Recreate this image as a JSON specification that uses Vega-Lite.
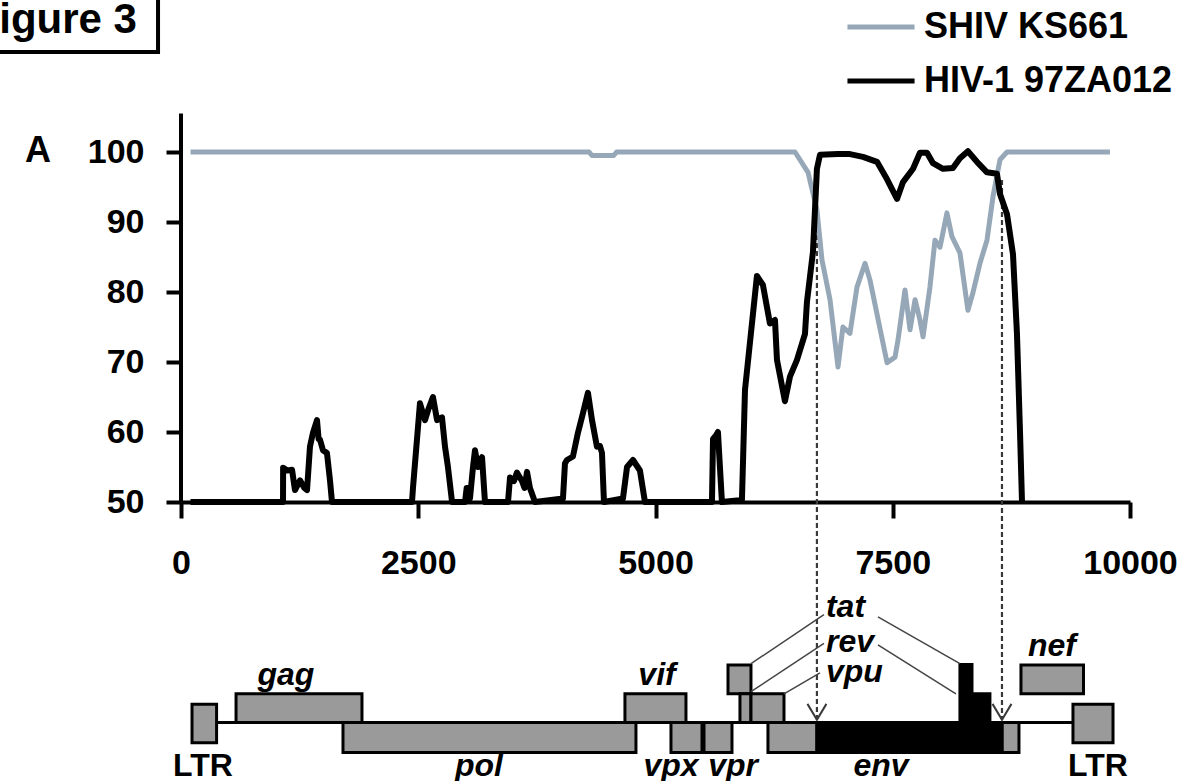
{
  "$schema": "https://vega.github.io/schema/vega-lite/v6.json",
  "width": 949,
  "height": 665,
  "autosize": {"type": "none"},
  "padding": {"left": 181, "top": 117, "right": 66, "bottom": 0},
  "background": "white",
  "config": {"view": {"stroke": null}, "font": "Liberation Sans"},
  "datasets": {
    "lines": [
      {"series": "SHIV KS661", "x": 100, "y": 100},
      {"series": "SHIV KS661", "x": 4300, "y": 100},
      {"series": "SHIV KS661", "x": 4330, "y": 99.5},
      {"series": "SHIV KS661", "x": 4560, "y": 99.5},
      {"series": "SHIV KS661", "x": 4590, "y": 100},
      {"series": "SHIV KS661", "x": 6470, "y": 100},
      {"series": "SHIV KS661", "x": 6607, "y": 97.1},
      {"series": "SHIV KS661", "x": 6701, "y": 91.7},
      {"series": "SHIV KS661", "x": 6754, "y": 84.6},
      {"series": "SHIV KS661", "x": 6839, "y": 78.9},
      {"series": "SHIV KS661", "x": 6923, "y": 69.3},
      {"series": "SHIV KS661", "x": 6975, "y": 75.0},
      {"series": "SHIV KS661", "x": 7049, "y": 74.1},
      {"series": "SHIV KS661", "x": 7123, "y": 80.7},
      {"series": "SHIV KS661", "x": 7208, "y": 84.1},
      {"series": "SHIV KS661", "x": 7260, "y": 81.7},
      {"series": "SHIV KS661", "x": 7397, "y": 72.7},
      {"series": "SHIV KS661", "x": 7440, "y": 69.9},
      {"series": "SHIV KS661", "x": 7524, "y": 70.7},
      {"series": "SHIV KS661", "x": 7555, "y": 73.1},
      {"series": "SHIV KS661", "x": 7629, "y": 80.3},
      {"series": "SHIV KS661", "x": 7682, "y": 74.6},
      {"series": "SHIV KS661", "x": 7735, "y": 78.9},
      {"series": "SHIV KS661", "x": 7787, "y": 76.0},
      {"series": "SHIV KS661", "x": 7819, "y": 73.6},
      {"series": "SHIV KS661", "x": 7892, "y": 80.7},
      {"series": "SHIV KS661", "x": 7945, "y": 87.4},
      {"series": "SHIV KS661", "x": 7998, "y": 86.4},
      {"series": "SHIV KS661", "x": 8071, "y": 91.3},
      {"series": "SHIV KS661", "x": 8124, "y": 87.9},
      {"series": "SHIV KS661", "x": 8208, "y": 85.6},
      {"series": "SHIV KS661", "x": 8292, "y": 77.4},
      {"series": "SHIV KS661", "x": 8345, "y": 79.9},
      {"series": "SHIV KS661", "x": 8419, "y": 84.1},
      {"series": "SHIV KS661", "x": 8493, "y": 87.4},
      {"series": "SHIV KS661", "x": 8556, "y": 93.6},
      {"series": "SHIV KS661", "x": 8630, "y": 98.9},
      {"series": "SHIV KS661", "x": 8704, "y": 100},
      {"series": "SHIV KS661", "x": 9789, "y": 100},
      {"series": "HIV-1 97ZA012", "x": 100, "y": 50},
      {"series": "HIV-1 97ZA012", "x": 1075, "y": 50},
      {"series": "HIV-1 97ZA012", "x": 1076, "y": 54.9},
      {"series": "HIV-1 97ZA012", "x": 1120, "y": 54.5},
      {"series": "HIV-1 97ZA012", "x": 1170, "y": 54.6},
      {"series": "HIV-1 97ZA012", "x": 1201, "y": 51.7},
      {"series": "HIV-1 97ZA012", "x": 1254, "y": 53.1},
      {"series": "HIV-1 97ZA012", "x": 1300, "y": 52.0},
      {"series": "HIV-1 97ZA012", "x": 1328, "y": 51.7},
      {"series": "HIV-1 97ZA012", "x": 1359, "y": 57.9},
      {"series": "HIV-1 97ZA012", "x": 1391, "y": 59.9},
      {"series": "HIV-1 97ZA012", "x": 1433, "y": 61.7},
      {"series": "HIV-1 97ZA012", "x": 1450, "y": 59.0},
      {"series": "HIV-1 97ZA012", "x": 1465, "y": 58.9},
      {"series": "HIV-1 97ZA012", "x": 1496, "y": 57.4},
      {"series": "HIV-1 97ZA012", "x": 1538, "y": 57.0},
      {"series": "HIV-1 97ZA012", "x": 1570, "y": 53.1},
      {"series": "HIV-1 97ZA012", "x": 1591, "y": 50},
      {"series": "HIV-1 97ZA012", "x": 2434, "y": 50},
      {"series": "HIV-1 97ZA012", "x": 2445, "y": 52.1},
      {"series": "HIV-1 97ZA012", "x": 2518, "y": 64.1},
      {"series": "HIV-1 97ZA012", "x": 2571, "y": 61.7},
      {"series": "HIV-1 97ZA012", "x": 2603, "y": 63.1},
      {"series": "HIV-1 97ZA012", "x": 2655, "y": 65.0},
      {"series": "HIV-1 97ZA012", "x": 2698, "y": 61.7},
      {"series": "HIV-1 97ZA012", "x": 2750, "y": 62.1},
      {"series": "HIV-1 97ZA012", "x": 2782, "y": 57.9},
      {"series": "HIV-1 97ZA012", "x": 2813, "y": 55.0},
      {"series": "HIV-1 97ZA012", "x": 2856, "y": 50},
      {"series": "HIV-1 97ZA012", "x": 2993, "y": 50},
      {"series": "HIV-1 97ZA012", "x": 3010, "y": 52},
      {"series": "HIV-1 97ZA012", "x": 3024, "y": 52},
      {"series": "HIV-1 97ZA012", "x": 3045, "y": 50.5},
      {"series": "HIV-1 97ZA012", "x": 3077, "y": 55},
      {"series": "HIV-1 97ZA012", "x": 3098, "y": 57.4},
      {"series": "HIV-1 97ZA012", "x": 3129, "y": 55},
      {"series": "HIV-1 97ZA012", "x": 3172, "y": 56.4},
      {"series": "HIV-1 97ZA012", "x": 3203, "y": 50},
      {"series": "HIV-1 97ZA012", "x": 3446, "y": 50},
      {"series": "HIV-1 97ZA012", "x": 3467, "y": 53.5},
      {"series": "HIV-1 97ZA012", "x": 3509, "y": 53},
      {"series": "HIV-1 97ZA012", "x": 3540, "y": 54.2},
      {"series": "HIV-1 97ZA012", "x": 3593, "y": 53},
      {"series": "HIV-1 97ZA012", "x": 3620, "y": 52},
      {"series": "HIV-1 97ZA012", "x": 3646, "y": 54.3},
      {"series": "HIV-1 97ZA012", "x": 3677, "y": 52},
      {"series": "HIV-1 97ZA012", "x": 3730, "y": 50},
      {"series": "HIV-1 97ZA012", "x": 4025, "y": 50.5},
      {"series": "HIV-1 97ZA012", "x": 4046, "y": 55.5},
      {"series": "HIV-1 97ZA012", "x": 4067, "y": 56},
      {"series": "HIV-1 97ZA012", "x": 4130, "y": 56.5},
      {"series": "HIV-1 97ZA012", "x": 4183, "y": 59.9},
      {"series": "HIV-1 97ZA012", "x": 4236, "y": 62.7},
      {"series": "HIV-1 97ZA012", "x": 4288, "y": 65.6},
      {"series": "HIV-1 97ZA012", "x": 4331, "y": 61.7},
      {"series": "HIV-1 97ZA012", "x": 4383, "y": 57.9},
      {"series": "HIV-1 97ZA012", "x": 4415, "y": 58},
      {"series": "HIV-1 97ZA012", "x": 4436, "y": 57},
      {"series": "HIV-1 97ZA012", "x": 4457, "y": 50},
      {"series": "HIV-1 97ZA012", "x": 4657, "y": 50.5},
      {"series": "HIV-1 97ZA012", "x": 4700, "y": 55},
      {"series": "HIV-1 97ZA012", "x": 4763, "y": 56},
      {"series": "HIV-1 97ZA012", "x": 4836, "y": 54.5},
      {"series": "HIV-1 97ZA012", "x": 4889, "y": 50},
      {"series": "HIV-1 97ZA012", "x": 5595, "y": 50},
      {"series": "HIV-1 97ZA012", "x": 5606, "y": 59},
      {"series": "HIV-1 97ZA012", "x": 5637, "y": 59.5},
      {"series": "HIV-1 97ZA012", "x": 5658, "y": 60},
      {"series": "HIV-1 97ZA012", "x": 5679, "y": 55},
      {"series": "HIV-1 97ZA012", "x": 5700, "y": 50},
      {"series": "HIV-1 97ZA012", "x": 5911, "y": 50.3},
      {"series": "HIV-1 97ZA012", "x": 5943, "y": 66},
      {"series": "HIV-1 97ZA012", "x": 6069, "y": 82.3},
      {"series": "HIV-1 97ZA012", "x": 6132, "y": 81},
      {"series": "HIV-1 97ZA012", "x": 6206, "y": 75.5},
      {"series": "HIV-1 97ZA012", "x": 6259, "y": 76},
      {"series": "HIV-1 97ZA012", "x": 6280, "y": 70.3},
      {"series": "HIV-1 97ZA012", "x": 6364, "y": 64.4},
      {"series": "HIV-1 97ZA012", "x": 6417, "y": 67.9},
      {"series": "HIV-1 97ZA012", "x": 6491, "y": 70.3},
      {"series": "HIV-1 97ZA012", "x": 6575, "y": 74},
      {"series": "HIV-1 97ZA012", "x": 6596, "y": 78.6},
      {"series": "HIV-1 97ZA012", "x": 6659, "y": 85.7},
      {"series": "HIV-1 97ZA012", "x": 6701, "y": 97.6},
      {"series": "HIV-1 97ZA012", "x": 6733, "y": 99.6},
      {"series": "HIV-1 97ZA012", "x": 6923, "y": 99.7},
      {"series": "HIV-1 97ZA012", "x": 7049, "y": 99.7},
      {"series": "HIV-1 97ZA012", "x": 7186, "y": 99.3},
      {"series": "HIV-1 97ZA012", "x": 7334, "y": 98.6},
      {"series": "HIV-1 97ZA012", "x": 7440, "y": 96.1},
      {"series": "HIV-1 97ZA012", "x": 7545, "y": 93.3},
      {"series": "HIV-1 97ZA012", "x": 7608, "y": 95.7},
      {"series": "HIV-1 97ZA012", "x": 7714, "y": 97.6},
      {"series": "HIV-1 97ZA012", "x": 7787, "y": 99.9},
      {"series": "HIV-1 97ZA012", "x": 7861, "y": 99.9},
      {"series": "HIV-1 97ZA012", "x": 7924, "y": 98.4},
      {"series": "HIV-1 97ZA012", "x": 8029, "y": 97.6},
      {"series": "HIV-1 97ZA012", "x": 8134, "y": 97.7},
      {"series": "HIV-1 97ZA012", "x": 8208, "y": 99.1},
      {"series": "HIV-1 97ZA012", "x": 8292, "y": 100.1},
      {"series": "HIV-1 97ZA012", "x": 8387, "y": 98.6},
      {"series": "HIV-1 97ZA012", "x": 8493, "y": 97.1},
      {"series": "HIV-1 97ZA012", "x": 8598, "y": 96.9},
      {"series": "HIV-1 97ZA012", "x": 8630, "y": 94},
      {"series": "HIV-1 97ZA012", "x": 8704, "y": 91.1},
      {"series": "HIV-1 97ZA012", "x": 8767, "y": 85.4},
      {"series": "HIV-1 97ZA012", "x": 8809, "y": 74},
      {"series": "HIV-1 97ZA012", "x": 8841, "y": 60},
      {"series": "HIV-1 97ZA012", "x": 8862, "y": 50}
    ],
    "axisline": [{"x": 0, "y": 50, "y2": 105.5}],
    "backbone": [{"x": 375, "x2": 9399, "y": 18.5}],
    "genes": [
      {"gene": "LTR 5'", "part": "gray", "x": 116, "x2": 375, "y": 15.6, "y2": 21.1},
      {"gene": "gag", "part": "gray", "x": 580, "x2": 1907, "y": 18.5, "y2": 22.6},
      {"gene": "pol", "part": "gray", "x": 1707, "x2": 4794, "y": 14.2, "y2": 18.5},
      {"gene": "vif", "part": "gray", "x": 4678, "x2": 5321, "y": 18.5, "y2": 22.6},
      {"gene": "vpx", "part": "gray", "x": 5163, "x2": 5490, "y": 14.2, "y2": 18.5},
      {"gene": "vpr", "part": "gray", "x": 5511, "x2": 5806, "y": 14.2, "y2": 18.5},
      {"gene": "tat exon 1", "part": "gray", "x": 5764, "x2": 6006, "y": 22.6, "y2": 26.7},
      {"gene": "rev exon 1", "part": "gray", "x": 5890, "x2": 6006, "y": 18.5, "y2": 22.6},
      {"gene": "vpu", "part": "gray", "x": 6006, "x2": 6354, "y": 18.5, "y2": 22.6},
      {"gene": "env SHIV 5'", "part": "gray", "x": 6185, "x2": 6701, "y": 14.2, "y2": 18.5},
      {"gene": "env SHIV 3'", "part": "gray", "x": 8651, "x2": 8830, "y": 14.2, "y2": 18.5},
      {"gene": "nef", "part": "gray", "x": 8851, "x2": 9510, "y": 22.6, "y2": 26.7},
      {"gene": "LTR 3'", "part": "gray", "x": 9399, "x2": 9821, "y": 15.6, "y2": 21.1},
      {"gene": "env HIV-1", "part": "black", "x": 6701, "x2": 8651, "y": 14.2, "y2": 18.5},
      {"gene": "tat exon 2", "part": "black", "x": 8208, "x2": 8335, "y": 18.5, "y2": 26.8},
      {"gene": "rev exon 2", "part": "black", "x": 8335, "x2": 8524, "y": 18.5, "y2": 22.6}
    ],
    "labels": [
      {"label": "gag", "style": "italic-center", "x": 1106, "y": 23.9},
      {"label": "vif", "style": "italic-center", "x": 5016, "y": 23.9},
      {"label": "nef", "style": "italic-center", "x": 9178, "y": 28.0},
      {"label": "pol", "style": "italic-center", "x": 3140, "y": 10.9},
      {"label": "vpx", "style": "italic-center", "x": 5163, "y": 10.9},
      {"label": "vpr", "style": "italic-center", "x": 5817, "y": 10.9},
      {"label": "env", "style": "italic-center", "x": 7376, "y": 10.9},
      {"label": "tat", "style": "italic-left", "x": 6796, "y": 33.6},
      {"label": "rev", "style": "italic-left", "x": 6796, "y": 28.6},
      {"label": "vpu", "style": "italic-left", "x": 6796, "y": 24.3},
      {"label": "LTR", "style": "plain", "x": 232, "y": 10.9},
      {"label": "LTR", "style": "plain", "x": 9662, "y": 10.9}
    ],
    "leaders": [
      {"x": 6775, "y": 33.9, "x2": 6006, "y2": 26.9},
      {"x": 6775, "y": 29.8, "x2": 6006, "y2": 22.9},
      {"x": 6733, "y": 25.6, "x2": 6354, "y2": 22.6},
      {"x": 7344, "y": 33.6, "x2": 8208, "y2": 26.9},
      {"x": 7344, "y": 29.6, "x2": 8166, "y2": 22.6}
    ],
    "dashes": [
      {"x": 6701, "y": 89.3, "y2": 18.9},
      {"x": 8651, "y": 96.0, "y2": 18.9}
    ],
    "notes": [
      {"label": "A", "x": -1507, "y": 98.6}
    ],
    "figlabel": [
      {"label": "Figure 3", "x": -464, "y": 117.0}
    ],
    "figbox": [
      {"x": -2100, "x2": -242, "y": 114.3, "y2": 125}
    ]
  },
  "encoding": {
    "x": {
      "field": "x", "type": "quantitative",
      "scale": {"domain": [0, 10000], "nice": false, "zero": false},
      "axis": {
        "values": [0, 2500, 5000, 7500, 10000], "format": "d", "offset": -280,
        "title": null, "grid": false, "domainColor": "black", "domainWidth": 4,
        "tickColor": "black", "tickWidth": 4, "tickSize": 16,
        "labelFontSize": 34, "labelFontWeight": "bold", "labelColor": "black",
        "labelPadding": 28, "labelFlush": false, "labelOverlap": false, "labelFont": "Liberation Sans"
      }
    },
    "y": {
      "field": "y", "type": "quantitative",
      "scale": {"domain": [10, 105], "nice": false, "zero": false},
      "axis": {
        "values": [50, 60, 70, 80, 90, 100], "domain": false, "title": null, "grid": false,
        "tickColor": "black", "tickWidth": 4, "tickSize": 15,
        "labelFontSize": 34, "labelFontWeight": "bold", "labelColor": "black",
        "labelPadding": 22, "labelFont": "Liberation Sans"
      }
    }
  },
  "layer": [
    {
      "data": {"name": "axisline"},
      "mark": {"type": "rule", "color": "black", "strokeWidth": 4},
      "encoding": {"y2": {"field": "y2"}}
    },
    {
      "data": {"name": "backbone"},
      "mark": {"type": "rule", "color": "black", "strokeWidth": 3},
      "encoding": {"x2": {"field": "x2"}}
    },
    {
      "data": {"name": "dashes"},
      "mark": {"type": "rule", "color": "#3a3a3a", "strokeWidth": 2.2, "strokeDash": [5, 3]},
      "encoding": {"y2": {"field": "y2"}}
    },
    {
      "data": {"name": "genes"},
      "transform": [{"filter": "datum.part === 'gray'"}],
      "mark": {"type": "rect", "fill": "#9a9a9a", "stroke": "black", "strokeWidth": 3},
      "encoding": {"x2": {"field": "x2"}, "y2": {"field": "y2"}}
    },
    {
      "data": {"name": "genes"},
      "transform": [{"filter": "datum.part === 'black'"}],
      "mark": {"type": "rect", "fill": "black", "stroke": "black", "strokeWidth": 3},
      "encoding": {"x2": {"field": "x2"}, "y2": {"field": "y2"}}
    },
    {
      "data": {"name": "leaders"},
      "mark": {"type": "rule", "color": "#444444", "strokeWidth": 1.5},
      "encoding": {"x2": {"field": "x2"}, "y2": {"field": "y2"}}
    },
    {
      "data": {"name": "dashes"},
      "mark": {"type": "point", "shape": "M-0.6,-1L0,0L0.6,-1", "size": 1000, "filled": false, "stroke": "#3a3a3a", "strokeWidth": 2, "opacity": 1},
      "encoding": {"y": {"field": "y2", "type": "quantitative"}}
    },
    {
      "data": {"name": "lines"},
      "transform": [{"filter": "datum.series === 'SHIV KS661'"}],
      "mark": {"type": "line", "strokeWidth": 5, "strokeJoin": "round"},
      "encoding": {
        "color": {
          "field": "series", "type": "nominal",
          "scale": {"domain": ["SHIV KS661", "HIV-1 97ZA012"], "range": ["#96a8b8", "#000000"]},
          "legend": {
            "title": null, "orient": "none", "legendX": 682, "legendY": -108,
            "symbolType": "M-3,0H3", "symbolSize": 500, "symbolStrokeWidth": 5,
            "labelFontSize": 36, "labelFontWeight": "bold", "labelColor": "black",
            "labelFont": "Liberation Sans", "labelOffset": 25, "rowPadding": 18,
            "padding": 0, "labelLimit": 0
          }
        }
      }
    },
    {
      "data": {"name": "lines"},
      "transform": [{"filter": "datum.series === 'HIV-1 97ZA012'"}],
      "mark": {"type": "line", "strokeWidth": 6, "strokeJoin": "round"},
      "encoding": {
        "color": {"field": "series", "type": "nominal"}
      }
    },
    {
      "data": {"name": "labels"},
      "transform": [{"filter": "datum.style === 'italic-center'"}],
      "mark": {"type": "text", "align": "center", "baseline": "alphabetic", "fontSize": 32, "fontWeight": "bold", "fontStyle": "italic", "color": "black"},
      "encoding": {"text": {"field": "label"}}
    },
    {
      "data": {"name": "labels"},
      "transform": [{"filter": "datum.style === 'italic-left'"}],
      "mark": {"type": "text", "align": "left", "baseline": "alphabetic", "fontSize": 32, "fontWeight": "bold", "fontStyle": "italic", "color": "black"},
      "encoding": {"text": {"field": "label"}}
    },
    {
      "data": {"name": "labels"},
      "transform": [{"filter": "datum.style === 'plain'"}],
      "mark": {"type": "text", "align": "center", "baseline": "alphabetic", "fontSize": 32, "fontWeight": "bold", "color": "black"},
      "encoding": {"text": {"field": "label"}}
    },
    {
      "data": {"name": "notes"},
      "mark": {"type": "text", "align": "center", "baseline": "alphabetic", "fontSize": 36, "fontWeight": "bold", "color": "black"},
      "encoding": {"text": {"field": "label"}}
    },
    {
      "data": {"name": "figbox"},
      "mark": {"type": "rect", "fill": null, "fillOpacity": 0, "stroke": "black", "strokeWidth": 4},
      "encoding": {"x2": {"field": "x2"}, "y2": {"field": "y2"}}
    },
    {
      "data": {"name": "figlabel"},
      "mark": {"type": "text", "align": "right", "baseline": "alphabetic", "fontSize": 42, "fontWeight": "bold", "color": "black"},
      "encoding": {"text": {"field": "label"}}
    }
  ]
}
